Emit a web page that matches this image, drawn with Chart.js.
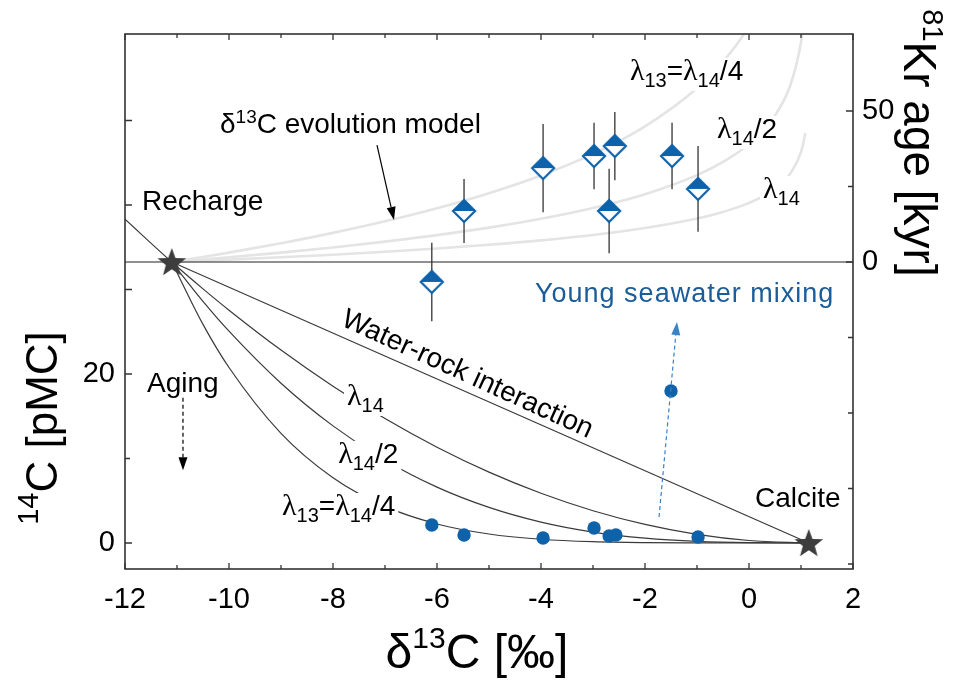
<!DOCTYPE html>
<html>
<head>
<meta charset="utf-8">
<script src="https://cdn.jsdelivr.net/npm/chart.js@4.4.1/dist/chart.umd.min.js"></script>
<style>
  html, body { margin: 0; padding: 0; background: #fff; }
</style>
</head>
<body>
<canvas id="c" width="960" height="689"></canvas>
<script>
// --- data ---
const xTickVals = [-12, -10, -8, -6, -4, -2, 0, 2];
const leftTickVals = [0, 20];
const rightTickVals = [0, 50];

// end members (14C on left axis)
const starX = [-11.1, 1.15];
const starY = [33.25, 0];

// 14C measurements [pMC]
const c14X = [-6.10, -5.48, -3.96, -2.98, -2.69, -2.56, -0.98, -1.50];
const c14Y = [2.13, 0.95, 0.59, 1.78, 0.83, 0.95, 0.71, 17.99];

// 81Kr ages [kyr] with 1-sigma
const krX = [-5.48, -6.10, -3.96, -2.98, -2.58, -2.69, -1.48, -0.98];
const krY = [16.9, -6.6, 31.1, 35.1, 38.4, 16.9, 35.1, 24.2];
const krErr = [10.6, 13.0, 14.6, 11.0, 11.3, 14.0, 11.0, 14.2];

// 14C model curves
const waterRockX = [-11.1, 1.15];
const waterRockY = [33.25, 0];
const lam14X = [-12, -11.1, -10.5, -10, -9, -8, -7, -6, -5, -4, -3, -2, -1, 0, 1.15];
const lam14Y = [38.32, 33.25, 30.07, 27.55, 22.83, 18.55, 14.72, 11.33, 8.38, 5.88, 3.82, 2.20, 1.02, 0.29, 0];
const lamX = [-11.1, -10.5, -10, -9, -8, -7, -6, -5, -4, -3, -2, -1, 0, 1.15];
const lam14h2Y = [33.25, 28.60, 25.07, 18.91, 13.86, 9.79, 6.61, 4.21, 2.47, 1.29, 0.57, 0.18, 0.03, 0];
const lam14q4Y = [33.25, 25.87, 20.77, 12.98, 7.73, 4.33, 2.25, 1.06, 0.44, 0.15, 0.04, 0.01, 0, 0];

// d13C evolution model (81Kr age axis)
const evoX = [-11.1, -10.5, -10, -9, -8, -7, -6, -5, -4, -3, -2, -1, -0.5, 0, 0.5, 0.8, 1.0, 1.05, 1.08];
const evoQ4 = [0, 1.66, 3.11, 6.22, 9.65, 13.47, 17.80, 22.78, 28.65, 35.79, 44.91, 57.54, 66.29, 78.22, 97.1];
const evoH2 = [0, 0.83, 1.56, 3.11, 4.82, 6.74, 8.90, 11.39, 14.33, 17.90, 22.45, 28.77, 33.15, 39.11, 48.55, 58.78, 72.79, 79.49];
const evoL14 = [0, 0.42, 0.78, 1.55, 2.41, 3.37, 4.45, 5.70, 7.16, 8.95, 11.23, 14.38, 16.57, 19.56, 24.27, 29.39, 36.39, 39.75, 42.69];

const zeroX = [-12, 2];
const zeroY = [0, 0];

// --- styling ---
const FONT = '"Liberation Sans", Arial, sans-serif';
const LFONT = '"Liberation Serif", "Times New Roman", serif';
const BLUE = "#0d62aa";
const TXTBLUE = "#1b5c99";
const GRAY = "#e4e4e4";
const DARK = "#3a3a3a";

function pts(xs, ys) {
  return ys.map((y, i) => ({ x: xs[i], y: y }));
}

// filled star marker
function makeStar() {
  const cv = document.createElement("canvas");
  cv.width = 34; cv.height = 34;
  const g = cv.getContext("2d");
  g.beginPath();
  for (let i = 0; i < 10; i++) {
    const r = i % 2 === 0 ? 15 : 6.3;
    const a = -Math.PI / 2 + i * Math.PI / 5;
    const px = 17 + r * Math.cos(a), py = 18 + r * Math.sin(a);
    if (i === 0) g.moveTo(px, py); else g.lineTo(px, py);
  }
  g.closePath();
  g.fillStyle = "#3d3d3d";
  g.fill();
  return cv;
}

// half filled diamond
function makeDiamond() {
  const cv = document.createElement("canvas");
  cv.width = 28; cv.height = 28;
  const g = cv.getContext("2d");
  g.beginPath();
  g.moveTo(14, 3); g.lineTo(25, 14); g.lineTo(14, 25); g.lineTo(3, 14); g.closePath();
  g.fillStyle = "#fff"; g.fill();
  g.beginPath();
  g.moveTo(14, 3); g.lineTo(25, 14); g.lineTo(3, 14); g.closePath();
  g.fillStyle = BLUE; g.fill();
  g.beginPath();
  g.moveTo(14, 3); g.lineTo(25, 14); g.lineTo(14, 25); g.lineTo(3, 14); g.closePath();
  g.lineWidth = 2.2; g.strokeStyle = BLUE; g.stroke();
  return cv;
}

function lineSet(data, axis, color, width, order) {
  return {
    data: data, yAxisID: axis, showLine: true, borderColor: color, borderWidth: width,
    pointRadius: 0, cubicInterpolationMode: "monotone", order: order, clip: 0
  };
}

const datasets = [
  { data: pts(starX, starY), yAxisID: "y", pointStyle: makeStar(), pointRadius: 14, order: 0 },
  { data: pts(c14X, c14Y), yAxisID: "y", pointStyle: "circle", pointRadius: 6.7,
    backgroundColor: BLUE, borderColor: BLUE, borderWidth: 0, order: 1 },
  { data: pts(krX, krY), yAxisID: "yr", pointStyle: makeDiamond(), pointRadius: 11, order: 2 },
  lineSet(pts(zeroX, zeroY), "yr", "#222", 1.2, 4),
  lineSet(pts(waterRockX, waterRockY), "y", DARK, 1.2, 5),
  lineSet(pts(lam14X, lam14Y), "y", DARK, 1.2, 5),
  lineSet(pts(lamX, lam14h2Y), "y", DARK, 1.2, 5),
  lineSet(pts(lamX, lam14q4Y), "y", DARK, 1.2, 5),
  lineSet(pts(evoX, evoQ4), "yr", GRAY, 2.6, 6),
  lineSet(pts(evoX, evoH2), "yr", GRAY, 2.6, 6),
  lineSet(pts(evoX, evoL14), "yr", GRAY, 2.6, 6),
];
// error bars of the Kr ages
krX.forEach((x, i) => {
  datasets.push(lineSet([{ x: x, y: krY[i] - krErr[i] }, { x: x, y: krY[i] + krErr[i] }], "yr", "#333", 1.3, 3));
});

// --- text helpers ---
function richWidth(ctx, parts) {
  let w = 0;
  parts.forEach(p => { ctx.font = p[1] + "px " + (p[3] || FONT); w += ctx.measureText(p[0]).width; });
  return w;
}
function drawRich(ctx, parts, x, y, align) {
  const w = richWidth(ctx, parts);
  let cx = align === "center" ? x - w / 2 : x;
  ctx.textBaseline = "alphabetic";
  ctx.textAlign = "left";
  parts.forEach(p => {
    ctx.font = p[1] + "px " + (p[3] || FONT);
    ctx.fillText(p[0], cx, y + (p[2] || 0));
    cx += ctx.measureText(p[0]).width;
  });
  return w;
}

const L = ["λ", 30, 0, LFONT];
const labelsLam = [
  { parts: [L, ["14", 20, 7]], x: -7.73, y: 16.33, axis: "y" },
  { parts: [L, ["14", 20, 7], ["/2", 28, 0]], x: -7.90, y: 9.47, axis: "y" },
  { parts: [L, ["13", 20, 7], ["=", 28, 0], L, ["14", 20, 7], ["/4", 28, 0]], x: -8.98, y: 3.31, axis: "y" },
  { parts: [L, ["13", 20, 7], ["=", 28, 0], L, ["14", 20, 7], ["/4", 28, 0]], x: -2.29, y: 60.3, axis: "yr" },
  { parts: [L, ["14", 20, 7], ["/2", 28, 0]], x: -0.615, y: 41.06, axis: "yr" },
  { parts: [L, ["14", 20, 7]], x: 0.27, y: 21.2, axis: "yr" },
];
const notes = [
  { parts: [["Recharge", 28]], x: -11.673, y: 17.2, axis: "yr", color: "#000" },
  { parts: [["δ", 28], ["13", 19, -10], ["C evolution model", 28]], x: -10.173, y: 42.7, axis: "yr", color: "#000" },
  { parts: [["Aging", 28]], x: -11.577, y: 17.87, axis: "y", color: "#000" },
  { parts: [["Calcite", 28]], x: 0.115, y: 4.26, axis: "y", color: "#000" },
  { parts: [["Young seawater mixing", 27]], x: -4.115, y: 28.52, axis: "y", color: TXTBLUE, spacing: "1px" },
];
const arrows = [
  { x1: -7.154, y1: 38.7, x2: -6.827, y2: 13.9, axis: "yr", color: "#000", dash: [] },
  { x1: -10.885, y1: 17.2, x2: -10.885, y2: 8.6, axis: "y", color: "#000", dash: [4, 3] },
  { x1: -1.73, y1: 3.08, x2: -1.385, y2: 26.15, axis: "y", color: "#3a82c4", dash: [4, 3] },
];

function drawArrow(ctx, x1, y1, x2, y2, color, dash) {
  const a = Math.atan2(y2 - y1, x2 - x1);
  const hl = 13, hw = 4.5;
  const bx = x2 - hl * Math.cos(a), by = y2 - hl * Math.sin(a);
  ctx.save();
  ctx.strokeStyle = color; ctx.fillStyle = color; ctx.lineWidth = 1.2;
  ctx.setLineDash(dash);
  ctx.beginPath(); ctx.moveTo(x1, y1); ctx.lineTo(bx, by); ctx.stroke();
  ctx.setLineDash([]);
  ctx.beginPath();
  ctx.moveTo(x2, y2);
  ctx.lineTo(bx - hw * Math.sin(a), by + hw * Math.cos(a));
  ctx.lineTo(bx + hw * Math.sin(a), by - hw * Math.cos(a));
  ctx.closePath(); ctx.fill();
  ctx.restore();
}

const decorPlugin = {
  id: "decor",
  afterDatasetsDraw(chart) {
    const ctx = chart.ctx;
    const xs = chart.scales.x;
    ctx.save();
    // lambda labels with white background to break the curves
    labelsLam.forEach(lb => {
      const px = xs.getPixelForValue(lb.x);
      const py = chart.scales[lb.axis].getPixelForValue(lb.y);
      const w = richWidth(ctx, lb.parts);
      ctx.fillStyle = "#fff";
      ctx.fillRect(px - 3, py - 22, w + 6, 33);
      ctx.fillStyle = "#000";
      drawRich(ctx, lb.parts, px, py, "left");
    });
    notes.forEach(n => {
      const px = xs.getPixelForValue(n.x);
      const py = chart.scales[n.axis].getPixelForValue(n.y);
      ctx.fillStyle = n.color;
      ctx.letterSpacing = n.spacing || "0px";
      drawRich(ctx, n.parts, px, py, "left");
      ctx.letterSpacing = "0px";
    });
    // rotated label along the water-rock line
    {
      const px = xs.getPixelForValue(-7.865);
      const py = chart.scales.y.getPixelForValue(25.79);
      ctx.save();
      ctx.translate(px, py);
      ctx.rotate(24.5 * Math.PI / 180);
      ctx.fillStyle = "#000";
      drawRich(ctx, [["Water-rock interaction", 28]], 0, 0, "left");
      ctx.restore();
    }
    arrows.forEach(a => {
      const ys = chart.scales[a.axis];
      drawArrow(ctx, xs.getPixelForValue(a.x1), ys.getPixelForValue(a.y1),
        xs.getPixelForValue(a.x2), ys.getPixelForValue(a.y2), a.color, a.dash);
    });
    ctx.restore();
  },
  afterDraw(chart) {
    const ctx = chart.ctx;
    const ca = chart.chartArea;
    const xs = chart.scales.x, yl = chart.scales.y, yr = chart.scales.yr;
    ctx.save();
    ctx.strokeStyle = "#333";
    ctx.lineWidth = 1.6;
    ctx.strokeRect(ca.left, ca.top, ca.right - ca.left, ca.bottom - ca.top);
    // inward ticks
    ctx.lineWidth = 1.3;
    ctx.beginPath();
    for (let v = -12; v <= 2; v++) {
      const px = xs.getPixelForValue(v);
      const len = v % 2 === 0 ? 6 : 4;
      ctx.moveTo(px, ca.bottom); ctx.lineTo(px, ca.bottom - len);
      ctx.moveTo(px, ca.top); ctx.lineTo(px, ca.top + len);
    }
    [0, 10, 20, 30, 40, 50].forEach(v => {
      const py = yl.getPixelForValue(v);
      const len = v === 10 ? 5 : 7;
      ctx.moveTo(ca.left, py); ctx.lineTo(ca.left + len, py);
    });
    [-100, -75, -50, -25, 0, 25, 50].forEach(v => {
      const py = yr.getPixelForValue(v);
      const len = v === 0 || v === 50 ? 7 : 5;
      ctx.moveTo(ca.right, py); ctx.lineTo(ca.right - len, py);
    });
    ctx.stroke();
    // axis titles
    ctx.fillStyle = "#000";
    drawRich(ctx, [["δ", 48], ["13", 30, -20], ["C [‰]", 48]], (ca.left + ca.right) / 2 - 12, 668, "center");
    ctx.save();
    ctx.translate(57, 428);
    ctx.rotate(-Math.PI / 2);
    drawRich(ctx, [["14", 29, -19], ["C [pMC]", 44]], 0, 0, "center");
    ctx.restore();
    ctx.save();
    ctx.translate(904, 143);
    ctx.rotate(Math.PI / 2);
    drawRich(ctx, [["81", 29, -19], ["Kr age [kyr]", 46]], 0, 0, "center");
    ctx.restore();
    ctx.restore();
  }
};

const tickFont = { family: FONT, size: 29 };

new Chart(document.getElementById("c"), {
  type: "scatter",
  data: { datasets: datasets },
  options: {
    responsive: false,
    animation: false,
    layout: { padding: { top: 34, left: 0, right: 0, bottom: 0 } },
    plugins: { legend: { display: false }, tooltip: { enabled: false } },
    scales: {
      x: {
        type: "linear", position: "bottom", min: -12, max: 2,
        grid: { display: false, drawTicks: false }, border: { display: false },
        ticks: { font: tickFont, color: "#000", padding: 14, maxRotation: 0, autoSkip: false, callback: v => String(v) },
        afterBuildTicks: s => { s.ticks = xTickVals.map(v => ({ value: v })); },
        afterFit: s => { s.height = 120; }
      },
      y: {
        type: "linear", position: "left", min: -3.08, max: 60.24,
        grid: { display: false, drawTicks: false }, border: { display: false },
        ticks: { font: tickFont, color: "#000", padding: 10, callback: v => String(v) },
        afterBuildTicks: s => { s.ticks = leftTickVals.map(v => ({ value: v })); },
        afterFit: s => { s.width = 125; }
      },
      yr: {
        type: "linear", position: "right", min: -101.66, max: 75.5,
        grid: { display: false, drawTicks: false }, border: { display: false },
        ticks: { font: tickFont, color: "#000", padding: 9, callback: v => String(v) },
        afterBuildTicks: s => { s.ticks = rightTickVals.map(v => ({ value: v })); },
        afterFit: s => { s.width = 107; }
      }
    }
  },
  plugins: [decorPlugin]
});
</script>
</body>
</html>
